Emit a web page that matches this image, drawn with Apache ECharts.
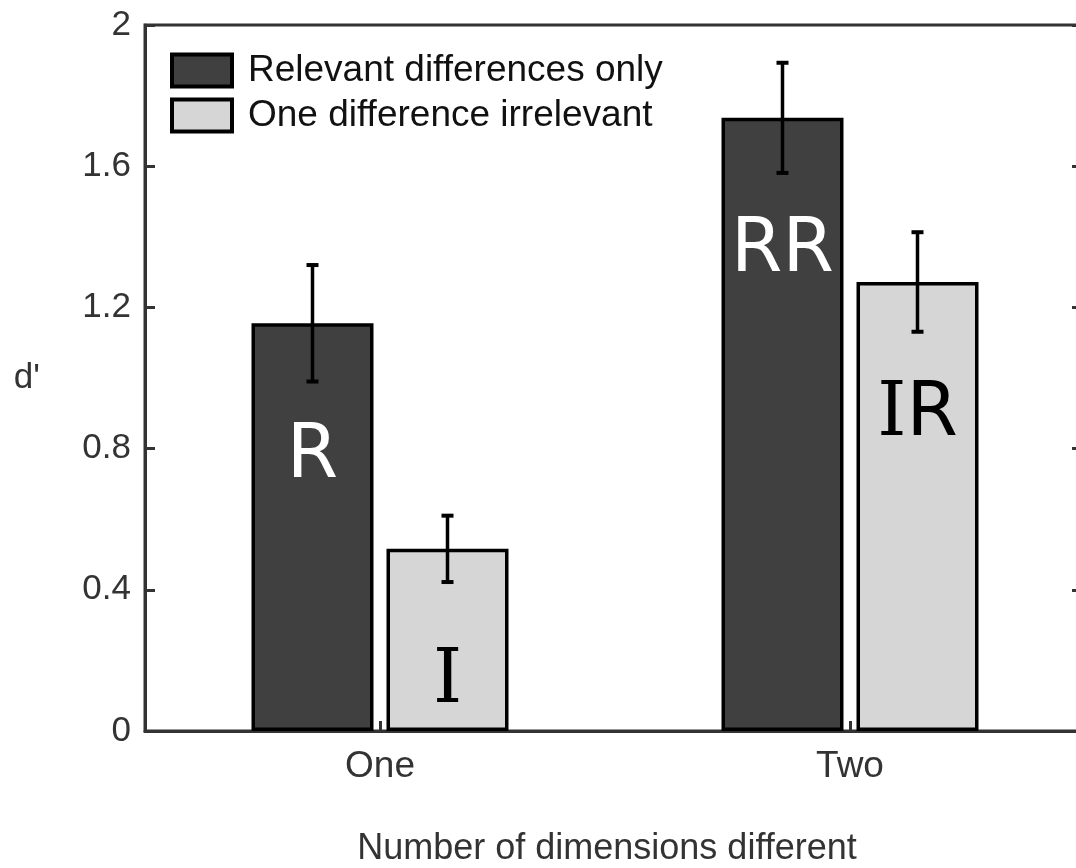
<!DOCTYPE html>
<html><head><meta charset="utf-8">
<script src="https://cdn.jsdelivr.net/npm/echarts@6/dist/echarts.min.js"></script>
<style>html,body{margin:0;padding:0;background:#fff}#c{width:1076px;height:868px}</style>
</head><body><div id="c"></div>
<script>
// ---- data ----
const categories = ['One', 'Two'];
const seriesNames = ['Relevant differences only', 'One difference irrelevant'];
const relevantValues = [1.155, 1.737];
const relevantErrors = [0.165, 0.156];
const irrelevantValues = [0.516, 1.272];
const irrelevantErrors = [0.094, 0.141];
const relevantLabels = ['R', 'RR'];
const irrelevantLabels = ['{i|I}', '{i|I}{r|R}'];
const yTicks = [0, 0.4, 0.8, 1.2, 1.6, 2];
const xTitle = 'Number of dimensions different';
const yTitle = "d'";

// ---- style ----
const AX = '#333333';
const FONT = 'Liberation Sans';
const BAR_W = 122;
const BAR_GAP_PX = 13;
const OFFSET = (BAR_W + BAR_GAP_PX) / 2;

function errorSeries(values, errors, sign) {
  return {
    type: 'custom',
    z: 10,
    silent: true,
    data: values.map((v, i) => [i, v - errors[i], v + errors[i]]),
    renderItem: (params, api) => {
      const lo = api.coord([api.value(0), api.value(1)]);
      const hi = api.coord([api.value(0), api.value(2)]);
      const x = lo[0] + sign * OFFSET;
      const cap = 6;
      return {
        type: 'group',
        children: [
          { type: 'line', shape: { x1: x, y1: lo[1], x2: x, y2: hi[1] }, style: { stroke: '#000', lineWidth: 3.5 } },
          { type: 'line', shape: { x1: x - cap, y1: lo[1], x2: x + cap, y2: lo[1] }, style: { stroke: '#000', lineWidth: 4 } },
          { type: 'line', shape: { x1: x - cap, y1: hi[1], x2: x + cap, y2: hi[1] }, style: { stroke: '#000', lineWidth: 4 } }
        ]
      };
    }
  };
}

const chart = echarts.init(document.getElementById('c'), null, { renderer: 'canvas' });
const yAxisBase = {
  type: 'value', min: yTicks[0], max: yTicks[yTicks.length - 1], interval: yTicks[1] - yTicks[0],
  splitLine: { show: false },
  axisLine: { show: true, lineStyle: { color: AX, width: 3 } },
  axisTick: { show: true, inside: true, length: 10, lineStyle: { color: AX, width: 3 } }
};
chart.setOption({
  animation: false,
  backgroundColor: '#fff',
  grid: { left: 145, top: 25, bottom: 137, right: -9, outerBoundsMode: 'none', containLabel: false,
          show: true, borderColor: AX, borderWidth: 3, backgroundColor: 'transparent' },
  legend: {
    data: seriesNames,
    orient: 'vertical', left: 170, top: 52, padding: 0,
    itemWidth: 60, itemHeight: 32, itemGap: 8,
    icon: 'rect',
    itemStyle: { borderColor: '#000', borderWidth: 4 },
    textStyle: { fontFamily: FONT, fontSize: 37, color: '#111', lineHeight: 37, padding: [0, 0, 0, 11] }
  },
  xAxis: {
    type: 'category', data: categories,
    axisLine: { show: true, lineStyle: { color: AX, width: 3 } },
    axisTick: { show: true, inside: true, alignWithLabel: true, length: 10, lineStyle: { color: AX, width: 3 } },
    axisLabel: { fontFamily: FONT, fontSize: 37, color: AX, margin: 17 },
    name: xTitle, nameLocation: 'middle', nameGap: 100,
    nameTextStyle: { fontFamily: FONT, fontSize: 36, color: AX, padding: [0, 16, 0, 0] }
  },
  yAxis: [
    Object.assign({}, yAxisBase, {
      position: 'left',
      axisLabel: { fontFamily: FONT, fontSize: 35, color: AX, margin: 14 },
      name: yTitle, nameLocation: 'middle', nameRotate: 0, nameGap: 105,
      nameTextStyle: { fontFamily: FONT, fontSize: 35, color: AX }
    }),
    Object.assign({}, yAxisBase, { position: 'right', axisLabel: { show: false },
      axisTick: { show: true, inside: true, length: 13, lineStyle: { color: AX, width: 3 } } })
  ],
  series: [
    {
      type: 'bar', name: seriesNames[0], data: relevantValues,
      barWidth: BAR_W, barGap: (BAR_GAP_PX / BAR_W * 100).toFixed(2) + '%',
      itemStyle: { color: '#404040', borderColor: '#000', borderWidth: 3.5 },
      label: {
        show: true, position: ['50%', 134], align: 'center', verticalAlign: 'middle',
        formatter: p => relevantLabels[p.dataIndex],
        fontFamily: 'DejaVu Sans', fontSize: 74, color: '#fff'
      }
    },
    {
      type: 'bar', name: seriesNames[1], data: irrelevantValues,
      barWidth: BAR_W,
      itemStyle: { color: '#d6d6d6', borderColor: '#000', borderWidth: 3.5 },
      label: {
        show: true, position: ['50%', 134], align: 'center', verticalAlign: 'middle',
        formatter: p => irrelevantLabels[p.dataIndex],
        rich: {
          i: { fontFamily: 'DejaVu Serif', fontSize: 74, color: '#000' },
          r: { fontFamily: 'DejaVu Sans', fontSize: 74, color: '#000' }
        }
      }
    },
    errorSeries(relevantValues, relevantErrors, -1),
    errorSeries(irrelevantValues, irrelevantErrors, 1)
  ]
});
</script></body></html>
